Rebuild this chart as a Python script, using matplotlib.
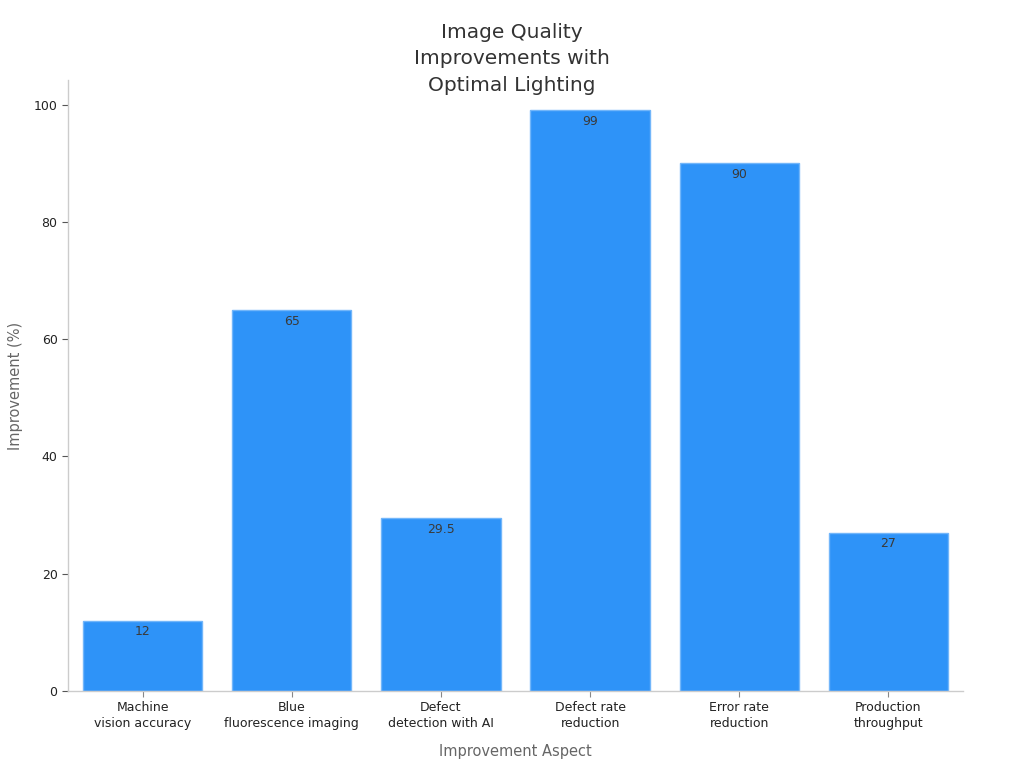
import matplotlib.pyplot as plt

aspects = ['Machine\nvision accuracy', 'Blue\nfluorescence imaging', 'Defect\ndetection with AI',
           'Defect rate\nreduction', 'Error rate\nreduction', 'Production\nthroughput']
improvement = [12, 65, 29.5, 99, 90, 27]
labels = ['12', '65', '29.5', '99', '90', '27']

plt.rcParams['font.family'] = ['DejaVu Sans']
fig = plt.figure(figsize=(10.24, 7.68), dpi=100)
ax = fig.add_axes([68 / 1024, 1 - 691 / 768, (963 - 68) / 1024, (691 - 80) / 768])

x = range(len(aspects))
bars = ax.bar(x, improvement, width=0.8, color='#2e93f8', edgecolor='#72b6fa', linewidth=1)
for b, t in zip(bars, labels):
    ax.text(b.get_x() + b.get_width() / 2, b.get_height() - 0.8, t,
            ha='center', va='top', fontsize=9, color='#3a3a3a')

ax.set_xlim(-0.5, 5.5)
ax.set_ylim(0, 104.2)
ax.set_xticks(list(x))
ax.set_xticklabels(aspects, fontsize=9, color='#222222', linespacing=1.3)
ax.set_yticks([0, 20, 40, 60, 80, 100])
ax.tick_params(axis='y', labelsize=9, colors='#222222', length=4, width=0.8)
ax.tick_params(axis='x', length=4, width=0.8, color='#888888')
ax.tick_params(axis='y', color='#555555')

for s in ['top', 'right']:
    ax.spines[s].set_visible(False)
for s in ['left', 'bottom']:
    ax.spines[s].set_color('#cccccc')
    ax.spines[s].set_linewidth(1)

ax.set_xlabel('Improvement Aspect', fontsize=10.5, color='#666666', labelpad=10)
ax.set_ylabel('Improvement (%)', fontsize=10.5, color='#666666', labelpad=8)
fig.text(0.5, 1 - 59 / 768, 'Image Quality\nImprovements with\nOptimal Lighting',
         ha='center', va='center', fontsize=14.5, color='#333333', linespacing=1.5)

fig.savefig('out.png', dpi=100)
